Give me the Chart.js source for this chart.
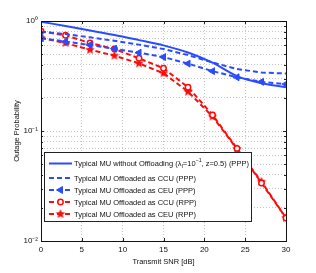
<!DOCTYPE html>
<html>
<head>
<meta charset="utf-8">
<script src="https://cdn.jsdelivr.net/npm/chart.js@4"></script>
<style>
  html, body { margin: 0; padding: 0; background: #fff; }
  #wrap { width: 316px; height: 273px; }
</style>
</head>
<body>
<div id="wrap"><canvas id="grafico" width="316" height="273"></canvas></div>
<script>
// transmit SNR [dB]
const snr = [0, 3, 6, 9, 12, 15, 18, 21, 24, 27, 30];

// outage probability
const semOffload = [0.985, 0.90, 0.82, 0.746, 0.67, 0.60, 0.517, 0.418, 0.315, 0.272, 0.25];
const ccuPPP = [0.80, 0.76, 0.71, 0.66, 0.61, 0.556, 0.49, 0.42, 0.366, 0.34, 0.333];
const ceuPPP = [0.70, 0.65, 0.605, 0.56, 0.515, 0.47, 0.41, 0.35, 0.308, 0.28, 0.267];
const ccuRPP = [0.806, 0.741, 0.631, 0.556, 0.458, 0.372, 0.25, 0.14, 0.0695, 0.0337, 0.0162];
const ceuRPP = [0.70, 0.631, 0.548, 0.484, 0.412, 0.335, 0.228, 0.1355, 0.0686, 0.0346, 0.0162];

const nomes = [
    'Typical MU without Offloading (λ_{I}=10^{−1}, z=0.5) (PPP)',
    'Typical MU Offloaded as CCU (PPP)',
    'Typical MU Offloaded as CEU (PPP)',
    'Typical MU Offloaded as CCU (RPP)',
    'Typical MU Offloaded as CEU (RPP)'
];

const xTicks = [0, 5, 10, 15, 20, 25, 30];
const yTicks = [0.01, 0.1, 1];
const yTickLabels = ['10⁻²', '10⁻¹', '10⁰'];
const yMinor = [0.02, 0.03, 0.04, 0.05, 0.06, 0.07, 0.08, 0.09, 0.2, 0.3, 0.4, 0.5, 0.6, 0.7, 0.8, 0.9];

const AZUL = '#2b4bff';
const VERMELHO = '#ff0a0a';
const FONTE = '"Liberation Sans", Arial, Helvetica, sans-serif';

function estrela(r, cor) {
    const c = document.createElement('canvas');
    c.width = c.height = Math.ceil(2 * r + 2);
    const g = c.getContext('2d');
    const cx = c.width / 2, cy = c.height / 2;
    g.beginPath();
    for (let i = 0; i < 10; i++) {
        const rr = i % 2 === 0 ? r : r * 0.45;
        const a = -Math.PI / 2 + i * Math.PI / 5;
        g.lineTo(cx + rr * Math.cos(a), cy + rr * Math.sin(a));
    }
    g.closePath();
    g.fillStyle = cor;
    g.fill();
    return c;
}
const imgEstrela = estrela(5, VERMELHO);

function pontos(valores) {
    return snr.map((x, i) => ({ x: x, y: valores[i] }));
}

// texto com _{sub} e ^{sup}
function textoRico(ctx, txt, x, y, tam) {
    const partes = txt.split(/(_\{[^}]*\}|\^\{[^}]*\})/);
    partes.forEach(p => {
        if (!p) return;
        let t = p, dy = 0, s = tam;
        if (p.startsWith('_{')) { t = p.slice(2, -1); dy = tam * 0.3; s = tam * 0.7; }
        else if (p.startsWith('^{')) { t = p.slice(2, -1); dy = -tam * 0.4; s = tam * 0.7; }
        ctx.font = s + 'px ' + FONTE;
        ctx.fillText(t, x, y + dy);
        x += ctx.measureText(t).width;
    });
}

const molduraELegenda = {
    id: 'molduraELegenda',
    afterDatasetsDraw(chart) {
        const { ctx, chartArea: a, scales } = chart;
        ctx.save();
        // ticks para dentro
        ctx.strokeStyle = '#222';
        ctx.lineWidth = 1;
        ctx.beginPath();
        xTicks.forEach(v => {
            const px = Math.round(scales.x.getPixelForValue(v)) + 0.5;
            ctx.moveTo(px, a.bottom); ctx.lineTo(px, a.bottom - 3);
            ctx.moveTo(px, a.top); ctx.lineTo(px, a.top + 3);
        });
        yTicks.concat(yMinor).forEach(v => {
            const py = Math.round(scales.y.getPixelForValue(v)) + 0.5;
            const L = yTicks.includes(v) ? 3 : 2;
            ctx.moveTo(a.left, py); ctx.lineTo(a.left + L, py);
            ctx.moveTo(a.right, py); ctx.lineTo(a.right - L, py);
        });
        ctx.stroke();
        ctx.strokeStyle = '#111';
        ctx.strokeRect(Math.round(a.left) + 0.5, Math.round(a.top) + 0.5,
            Math.round(a.right - a.left), Math.round(a.bottom - a.top));

        // titulos dos eixos
        ctx.fillStyle = '#111';
        ctx.font = '7.5px ' + FONTE;
        ctx.textAlign = 'center';
        ctx.textBaseline = 'middle';
        ctx.fillText('Transmit SNR [dB]', (a.left + a.right) / 2, 262);
        ctx.save();
        ctx.translate(17, (a.top + a.bottom) / 2);
        ctx.rotate(-Math.PI / 2);
        ctx.fillText('Outage Probability', 0, 0);
        ctx.restore();

        // legenda
        const bx = 44.5, by = 152.5, bw = 207, bh = 69;
        ctx.fillStyle = '#fff';
        ctx.fillRect(bx, by, bw, bh);
        ctx.strokeStyle = '#222';
        ctx.strokeRect(bx, by, bw, bh);
        const linhasY = [163.5, 178, 190, 202, 214];
        chart.data.datasets.forEach((ds, i) => {
            const y = linhasY[i];
            ctx.save();
            ctx.strokeStyle = ds.borderColor;
            ctx.lineWidth = ds.borderWidth;
            ctx.setLineDash(ds.borderDash || []);
            ctx.beginPath();
            ctx.moveTo(49, y); ctx.lineTo(72, y);
            ctx.stroke();
            ctx.setLineDash([]);
            if (ds.pointRadius > 0) {
                ctx.fillStyle = ds.pointBackgroundColor;
                ctx.strokeStyle = ds.pointBorderColor;
                ctx.lineWidth = ds.pointBorderWidth;
                Chart.helpers.drawPoint(ctx, {
                    pointStyle: ds.pointStyle,
                    radius: ds.pointRadius,
                    rotation: ds.pointRotation || 0,
                    borderWidth: ds.pointBorderWidth
                }, 60.5, y);
            }
            ctx.restore();
            ctx.fillStyle = '#111';
            ctx.textAlign = 'left';
            ctx.textBaseline = 'middle';
            textoRico(ctx, nomes[i], 74, y + 0.5, 7.5);
        });
        ctx.restore();
    }
};

const ctx = document.getElementById('grafico').getContext('2d');

new Chart(ctx, {
    type: 'line',
    data: {
        datasets: [{
            label: nomes[0],
            data: pontos(semOffload),
            borderColor: AZUL,
            borderWidth: 2,
            pointRadius: 0,
            tension: 0.3
        }, {
            label: nomes[1],
            data: pontos(ccuPPP),
            borderColor: AZUL,
            borderWidth: 2,
            borderDash: [5, 3],
            pointRadius: 0
        }, {
            label: nomes[2],
            data: pontos(ceuPPP),
            borderColor: AZUL,
            borderWidth: 2,
            borderDash: [5, 3],
            pointStyle: 'triangle',
            pointRotation: -90,
            pointRadius: 4,
            pointBorderWidth: 1,
            pointBackgroundColor: AZUL,
            pointBorderColor: AZUL
        }, {
            label: nomes[3],
            data: pontos(ccuRPP),
            borderColor: VERMELHO,
            borderWidth: 2,
            borderDash: [5, 3],
            pointStyle: 'circle',
            pointRadius: 2.7,
            pointBorderWidth: 1.5,
            pointBackgroundColor: '#fff',
            pointBorderColor: VERMELHO
        }, {
            label: nomes[4],
            data: pontos(ceuRPP),
            borderColor: VERMELHO,
            borderWidth: 2,
            borderDash: [5, 3],
            pointStyle: imgEstrela,
            pointRadius: 5,
            pointBorderWidth: 0,
            pointBackgroundColor: VERMELHO,
            pointBorderColor: VERMELHO
        }]
    },
    options: {
        responsive: false,
        animation: false,
        layout: { padding: { left: 0, top: 21, right: 30, bottom: 0 } },
        plugins: {
            legend: { display: false },
            tooltip: { enabled: false }
        },
        scales: {
            x: {
                type: 'linear',
                min: 0,
                max: 30,
                afterFit: s => { s.height = 32; },
                afterBuildTicks: s => { s.ticks = xTicks.map(v => ({ value: v })); },
                ticks: { color: '#111', font: { size: 8, family: FONTE }, padding: 4, maxRotation: 0, autoSkip: false },
                grid: { color: '#c4c4c4', lineWidth: 1, drawTicks: false },
                border: { display: false, dash: [1, 2] }
            },
            y: {
                type: 'logarithmic',
                min: 0.01,
                max: 1,
                afterFit: s => { s.width = 41; },
                afterBuildTicks: s => {
                    s.ticks = yTicks.concat(yMinor).sort((a, b) => a - b).map(v => ({ value: v }));
                },
                ticks: {
                    color: '#111',
                    font: { size: 8, family: FONTE },
                    padding: 3,
                    autoSkip: false,
                    callback: v => {
                        const i = yTicks.indexOf(v);
                        return i >= 0 ? yTickLabels[i] : '';
                    }
                },
                grid: { color: '#c4c4c4', lineWidth: 1, drawTicks: false },
                border: { display: false, dash: [1, 2] }
            }
        }
    },
    plugins: [molduraELegenda]
});
</script>
</body>
</html>
